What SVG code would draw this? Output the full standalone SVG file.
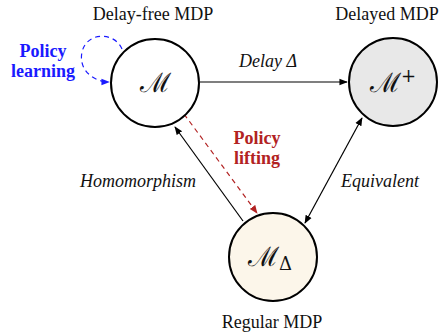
<svg xmlns="http://www.w3.org/2000/svg" width="440" height="336" viewBox="0 0 440 336">
<style>
.node{stroke:#000;stroke-width:2}
text.t{font-family:'Liberation Serif','Times New Roman',serif;font-size:18px;fill:#111;text-anchor:middle}
text.i{font-style:italic}
text.b{font-weight:bold}
text.m{font-family:'DejaVu Serif','Liberation Serif',serif;font-size:27px;fill:#111;text-anchor:middle}
.edge{stroke:#000;stroke-width:1.2;fill:none}
</style>
<defs>
<marker id="ab" viewBox="0 0 10 10" refX="9" refY="5" markerWidth="7" markerHeight="7" orient="auto-start-reverse"><path d="M0,1 L10,5 L0,9 z" fill="#000"/></marker>
<marker id="ar" viewBox="0 0 10 10" refX="9" refY="5" markerWidth="7" markerHeight="7" orient="auto"><path d="M0,1 L10,5 L0,9 z" fill="#b22222"/></marker>
<marker id="au" viewBox="0 0 10 10" refX="9" refY="5" markerWidth="7" markerHeight="7" orient="auto"><path d="M0,1 L10,5 L0,9 z" fill="#1a1aff"/></marker>
</defs>
<g id="edges">
<line class="edge" x1="200" y1="82" x2="347" y2="82" marker-end="url(#ab)"/>
<line class="edge" x1="243" y1="221" x2="175" y2="127" marker-end="url(#ab)"/>
<line class="edge" x1="305" y1="223" x2="362" y2="118" marker-start="url(#ab)" marker-end="url(#ab)"/>
<line x1="184" y1="114" x2="257" y2="213" stroke="#b22222" stroke-width="1.2" stroke-dasharray="5,4" marker-end="url(#ar)"/>
<path d="M122,49 C115,32 87,31 82,52 C78,71 95,82 109,82" fill="none" stroke="#1a1aff" stroke-width="1.2" stroke-dasharray="5,4" marker-end="url(#au)"/>
<text class="t i" x="268" y="67">Delay Δ</text>
<text class="t i" x="138" y="187">Homomorphism</text>
<text class="t i" x="380" y="187">Equivalent</text>
<text class="t b" x="257" y="144" style="fill:#b22222">Policy</text>
<text class="t b" x="257" y="164" style="fill:#b22222">lifting</text>
<text class="t b" x="43" y="57" style="fill:#1a1aff">Policy</text>
<text class="t b" x="43" y="77" style="fill:#1a1aff">learning</text>
</g>
<g id="n-m">
<circle class="node" cx="155" cy="83" r="44" fill="#fff"/>
<text class="m" x="155" y="92">ℳ</text>
<text class="t" x="153" y="20">Delay-free MDP</text>
</g>
<g id="n-mplus">
<circle class="node" cx="393" cy="82" r="44" fill="#e8e8e8"/>
<text class="m" x="393" y="92">ℳ<tspan font-size="18" dy="-10">+</tspan></text>
<text class="t" x="387" y="20">Delayed MDP</text>
</g>
<g id="n-mdelta">
<circle class="node" cx="273" cy="257" r="44" fill="#fcf6ea"/>
<text class="m" x="270" y="266">ℳ<tspan font-size="18" dy="4">Δ</tspan></text>
<text class="t" x="272" y="328">Regular MDP</text>
</g>
</svg>
